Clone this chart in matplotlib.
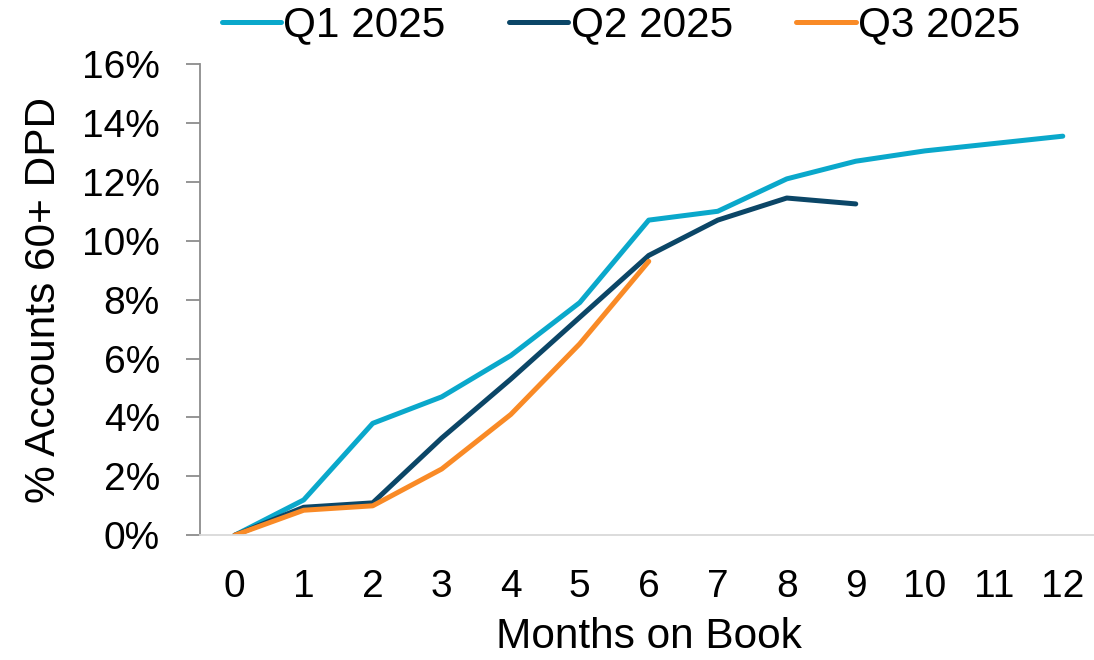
import matplotlib
matplotlib.use("Agg")
import matplotlib.pyplot as plt
from matplotlib.ticker import PercentFormatter

plt.rcParams['font.family'] = ['Liberation Sans', 'DejaVu Sans']

# vintage curves: % of accounts 60+ days past due by months on book
months_q1 = [0, 1, 2, 3, 4, 5, 6, 7, 8, 9, 10, 11, 12]
q1_2025 = [0.0, 1.2, 3.8, 4.7, 6.1, 7.9, 10.7, 11.0, 12.1, 12.7, 13.05, 13.3, 13.55]
months_q2 = [0, 1, 2, 3, 4, 5, 6, 7, 8, 9]
q2_2025 = [0.0, 0.95, 1.1, 3.3, 5.3, 7.4, 9.5, 10.7, 11.45, 11.25]
months_q3 = [0, 1, 2, 3, 4, 5, 6]
q3_2025 = [0.0, 0.85, 1.0, 2.25, 4.1, 6.5, 9.3]

labels = ["Q1 2025", "Q2 2025", "Q3 2025"]
colors = ["#0AA8CB", "#0B4667", "#F98A26"]
tick_fs = 28
label_fs = 30.5

fig = plt.figure(figsize=(10.94, 6.6), dpi=100)
ax = fig.add_axes([0.183, 0.189, 0.82, 0.714])

ax.plot(months_q1, q1_2025, color=colors[0], lw=3.6, label=labels[0], solid_capstyle='round')
ax.plot(months_q2, q2_2025, color=colors[1], lw=3.6, label=labels[1], solid_capstyle='round')
ax.plot(months_q3, q3_2025, color=colors[2], lw=3.6, label=labels[2], solid_capstyle='round')

ax.set_xlim(-0.5, 12.5)
ax.set_ylim(0, 16)
ax.set_xticks(range(0, 13))
ax.set_yticks(range(0, 17, 2))
ax.yaxis.set_major_formatter(PercentFormatter(decimals=0))

for s in ['top', 'right']:
    ax.spines[s].set_visible(False)
ax.spines['left'].set_color('#8c8c8c')
ax.spines['left'].set_linewidth(1.3)
ax.spines['bottom'].set_color('#d9d9d9')
ax.spines['bottom'].set_linewidth(1.3)

ax.tick_params(axis='y', labelsize=tick_fs, length=10, width=1.3, color='#8c8c8c', pad=19)
ax.tick_params(axis='x', labelsize=tick_fs, length=0, pad=24)

ax.set_ylabel("% Accounts 60+ DPD", fontsize=label_fs, labelpad=13)
ax.set_xlabel("Months on Book", fontsize=label_fs, labelpad=9)

ax.legend(loc='lower center', bbox_to_anchor=(0.469, 1.035), ncol=3, frameon=False,
          fontsize=label_fs, handlelength=1.4, handletextpad=0.05, columnspacing=1.5,
          borderaxespad=0.0, borderpad=0.05)

fig.savefig("out.png", dpi=100)
